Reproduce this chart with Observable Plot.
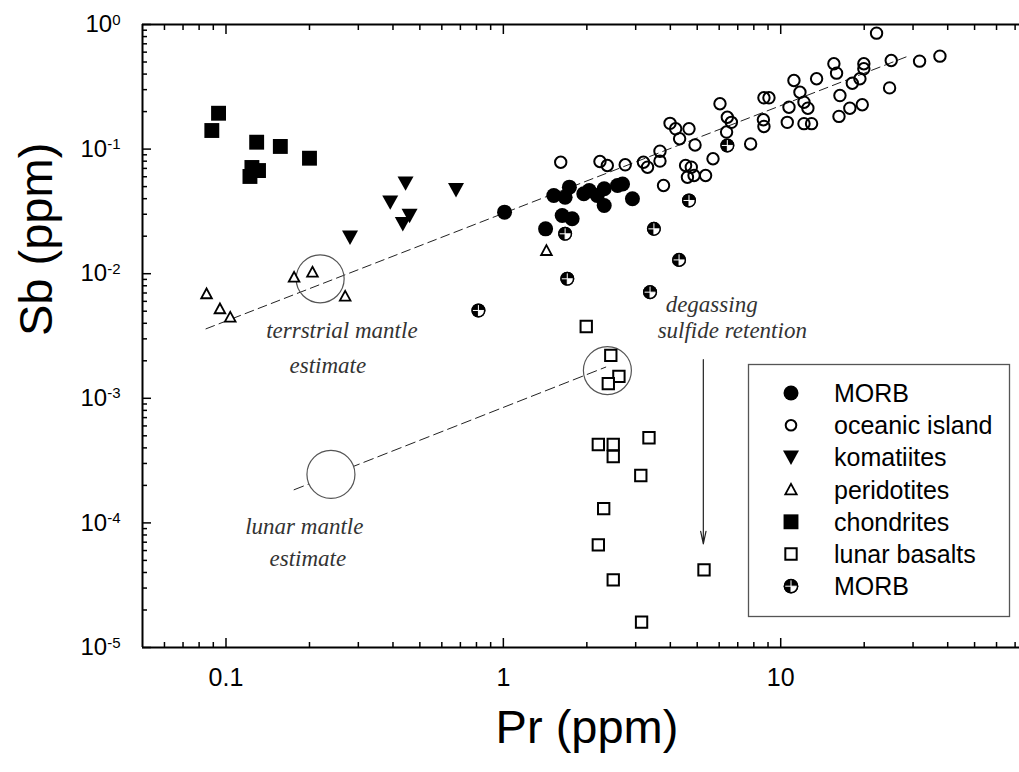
<!DOCTYPE html>
<html><head><meta charset="utf-8">
<script src="https://cdn.jsdelivr.net/npm/d3@7"></script>
<script src="https://cdn.jsdelivr.net/npm/@observablehq/plot@0.6"></script>
<style>
html,body{margin:0;padding:0;background:#fff;}
#chart{width:1019px;height:772px;}
</style></head><body><div id="chart"></div>
<script>
// ---------- data (Pr ppm, Sb ppm) ----------
const morbPr = [1.01, 1.52, 1.73, 1.67, 2.04, 2.31, 2.58, 2.69, 2.18, 2.31, 2.92, 1.63, 1.77, 1.42, 1.95];
const morbSb = [0.0312, 0.0424, 0.0495, 0.0411, 0.0465, 0.048, 0.051, 0.0525, 0.0424, 0.0353, 0.0399, 0.0293, 0.0276, 0.0229, 0.0438];

const oibPr = [1.61, 2.23, 2.37, 2.75, 3.20, 3.31, 3.67, 3.67, 3.78, 3.99, 4.18, 4.32, 4.67, 4.91, 4.54, 4.76, 4.61, 4.87, 5.36, 5.70,
  6.04, 6.42, 6.64, 6.38, 7.79, 8.70, 9.07, 8.66, 8.70, 10.56, 10.71, 11.16, 11.73, 12.13, 12.53, 12.13, 12.92, 13.47,
  15.55, 15.90, 16.35, 16.22, 17.75, 18.12, 19.30, 19.68, 19.94, 19.94, 22.16, 25.03, 24.69, 31.67, 37.5];
const oibSb = [0.0785, 0.0795, 0.0739, 0.0748, 0.0785, 0.0716, 0.0801, 0.0962, 0.051, 0.161, 0.1455, 0.121, 0.1455, 0.108, 0.0739, 0.0716, 0.0595, 0.0614, 0.0614, 0.0836,
  0.231, 0.180, 0.164, 0.137, 0.110, 0.258, 0.258, 0.172, 0.152, 0.164, 0.217, 0.355, 0.286, 0.238, 0.213, 0.160, 0.160, 0.367,
  0.484, 0.407, 0.269, 0.183, 0.213, 0.338, 0.367, 0.227, 0.484, 0.441, 0.852, 0.514, 0.310, 0.508, 0.557];

const komPr = [0.280, 0.391, 0.444, 0.459, 0.434, 0.675];
const komSb = [0.0196, 0.0375, 0.0532, 0.0293, 0.0251, 0.0471];

const perPr = [0.0851, 0.0951, 0.1036, 0.176, 0.205, 0.269, 1.43];
const perSb = [0.0069, 0.00523, 0.00448, 0.00937, 0.0103, 0.0066, 0.01535];

const chonPr = [0.094, 0.0889, 0.129, 0.157, 0.200, 0.122, 0.131, 0.124];
const chonSb = [0.194, 0.141, 0.1136, 0.105, 0.0845, 0.0603, 0.0673, 0.0712];

const lunarPr = [1.99, 2.44, 2.61, 2.39, 2.20, 2.49, 2.49, 3.35, 3.13, 2.30, 2.20, 2.49, 3.15, 5.29];
const lunarSb = [0.00377, 0.00221, 0.0015, 0.00131, 0.000426, 0.000426, 0.000341, 0.000482, 0.00024, 0.00013, 0.0000667, 0.0000349, 0.000016, 0.000042];

const morb2Pr = [1.67, 1.70, 3.49, 4.30, 3.38, 4.67, 6.42, 0.813];
const morb2Sb = [0.0209, 0.0091, 0.0229, 0.0129, 0.00711, 0.0387, 0.107, 0.00507];

// trend lines and estimate circles
const terrLinePr = [0.0847, 29.2];
const terrLineSb = [0.00361, 0.564];
const lunarLinePr = [0.176, 2.34];
const lunarLineSb = [0.0001845, 0.00178];
const estimatePr = [0.2185, 0.239, 2.372];
const estimateSb = [0.0091, 0.000245, 0.00167];
const arrowPr = [5.26];
const arrowSbTop = [0.00204];
const arrowSbBottom = [0.0000679];

// annotations
const annoText = ["terrstrial mantle", "estimate", "lunar mantle", "estimate", "degassing", "sulfide retention"];
const annoPr = [0.2617, 0.2330, 0.1916, 0.1973, 5.636, 6.688];
const annoSb = [0.00302, 0.00161, 0.0000822, 0.0000455, 0.00489, 0.00302];

// ticks & labels
const xMajor = [0.1, 1, 10];
const yMajor = [1, 0.1, 0.01, 0.001, 0.0001, 0.00001];
const legendLabels = ["MORB", "oceanic island", "komatiites", "peridotites", "chondrites", "lunar basalts", "MORB"];
const xTitle = "Pr (ppm)";
const yTitle = "Sb (ppm)";

// ---------- helpers ----------
const zip = (xs, ys) => xs.map((x, i) => ({x, y: ys[i]}));
const minors = (lo, hi) => {
  const out = [];
  for (let e = -6; e <= 2; e++) for (let k = 2; k <= 9; k++) {
    const v = k * Math.pow(10, e);
    if (v > lo && v < hi) out.push(v);
  }
  return out;
};
const xMinor = minors(0.05, 72.6);
const yMinor = minors(1e-5, 1);

const rOf = (size) => Math.sqrt(size / Math.PI);
const symTriUp = {draw(c, s) { const r = rOf(s); c.moveTo(0, -0.95 * r); c.lineTo(0.95 * r, 0.8 * r); c.lineTo(-0.95 * r, 0.8 * r); c.closePath(); }};
const symTriDown = {draw(c, s) { const r = rOf(s); c.moveTo(0, 0.95 * r); c.lineTo(r, -0.85 * r); c.lineTo(-r, -0.85 * r); c.closePath(); }};
const symQuarter = {draw(c, s) { const r = rOf(s); c.moveTo(0, 0); c.lineTo(r, 0); c.arc(0, 0, r, 0, Math.PI / 2); c.closePath(); }};
const symCross = {draw(c, s) { const r = rOf(s); c.moveTo(-r, 0); c.lineTo(r, 0); c.moveTo(0, -r); c.lineTo(0, r); }};

const morb = zip(morbPr, morbSb), oib = zip(oibPr, oibSb), kom = zip(komPr, komSb),
  per = zip(perPr, perSb), chon = zip(chonPr, chonSb), lunar = zip(lunarPr, lunarSb), morb2 = zip(morb2Pr, morb2Sb);
const terrLine = zip(terrLinePr, terrLineSb), lunarLine = zip(lunarLinePr, lunarLineSb);
const estimates = zip(estimatePr, estimateSb);
const arrows = arrowPr.map((x, i) => ({x, y1: arrowSbTop[i], y2: arrowSbBottom[i]}));
const annos = annoText.map((t, i) => ({t, x: annoPr[i], y: annoSb[i]}));

const sans = "'Liberation Sans', Arial, Helvetica, sans-serif";
const serif = "'Liberation Serif', 'Times New Roman', serif";

const plot = Plot.plot({
  width: 1019, height: 772,
  marginLeft: 142, marginRight: 0, marginTop: 24, marginBottom: 125,
  style: {fontFamily: sans, background: "white", overflow: "visible", color: "black"},
  x: {type: "log", domain: [0.05, 72.6], label: null},
  y: {type: "log", domain: [1e-5, 1], label: null},
  marks: [
    // ticks
    Plot.axisX(xMinor, {anchor: "bottom", tickSize: -5, tickFormat: () => "", strokeWidth: 1.5, label: null}),
    Plot.axisX(xMajor, {anchor: "bottom", tickSize: -9, tickPadding: 30, tickFormat: d => String(d), fontSize: 25, strokeWidth: 1.5, label: null}),
    Plot.axisX(xMinor, {anchor: "top", tickSize: -5, tickFormat: () => "", strokeWidth: 1.5, label: null}),
    Plot.axisX(xMajor, {anchor: "top", tickSize: -9, tickFormat: () => "", strokeWidth: 1.5, label: null}),
    Plot.axisY(yMinor, {anchor: "left", tickSize: -5, tickFormat: () => "", strokeWidth: 1.5, label: null}),
    Plot.axisY(yMajor, {anchor: "left", tickSize: -9, tickPadding: 31, tickFormat: d => "10^" + Math.round(Math.log10(d)), fontSize: 24, strokeWidth: 1.5, label: null}),
    // frame (left, top, bottom)
    Plot.ruleY([1e-5, 1], {strokeWidth: 2}),
    Plot.ruleX([0.05], {strokeWidth: 2}),
    // trend lines
    Plot.line(terrLine, {x: "x", y: "y", stroke: "#222", strokeWidth: 1, strokeDasharray: "9,5"}),
    Plot.line(lunarLine, {x: "x", y: "y", stroke: "#222", strokeWidth: 1, strokeDasharray: "10,5"}),
    // estimate circles
    Plot.dot(estimates, {x: "x", y: "y", r: 24, stroke: "#555", strokeWidth: 1.2, fill: (d, i) => i === 1 ? "white" : "none"}),
    // arrow
    Plot.arrow(arrows, {x: "x", y1: "y1", y2: "y2", stroke: "#222", strokeWidth: 1.2, headLength: 16, headAngle: 24}),
    // annotations
    Plot.text(annos, {x: "x", y: "y", text: "t", fontFamily: serif, fontStyle: "italic", fontSize: 23, fill: "#333", lineAnchor: "bottom"}),
    // data
    Plot.dot(oib, {x: "x", y: "y", r: 5.7, stroke: "black", strokeWidth: 2, fill: "none"}),
    Plot.dot(lunar, {x: "x", y: "y", symbol: "square", r: 6.4, stroke: "black", strokeWidth: 2, fill: "white"}),
    Plot.dot(chon, {x: "x", y: "y", symbol: "square", r: 8.4, fill: "black", stroke: "none"}),
    Plot.dot(kom, {x: "x", y: "y", symbol: symTriDown, r: 8, fill: "black", stroke: "none"}),
    Plot.dot(per, {x: "x", y: "y", symbol: symTriUp, r: 5.6, stroke: "black", strokeWidth: 1.8, fill: "white"}),
    Plot.dot(morb, {x: "x", y: "y", r: 7.5, fill: "black", stroke: "none"}),
    Plot.dot(morb2, {x: "x", y: "y", r: 7, fill: "black", stroke: "none"}),
    Plot.dot(morb2, {x: "x", y: "y", symbol: symQuarter, r: 6.6, fill: "white", stroke: "none"}),
    Plot.dot(morb2, {x: "x", y: "y", symbol: symCross, r: 6.6, stroke: "white", strokeWidth: 1, fill: "none"}),
    Plot.dot(morb2, {x: "x", y: "y", r: 6.3, stroke: "black", strokeWidth: 1.5, fill: "none"}),
    // axis titles
    Plot.text([xTitle], {frameAnchor: "bottom", text: d => d, dx: 6, dy: 95, fontSize: 47}),
    Plot.text([yTitle], {frameAnchor: "left", text: d => d, dx: -106, rotate: -90, fontSize: 47})
  ]
});

// superscript exponents on y tick labels
d3.select(plot).selectAll('g[aria-label="y-axis tick label"] text').each(function () {
  const parts = this.textContent.split("^");
  if (parts.length === 2) {
    const s = d3.select(this);
    s.text(parts[0]);
    s.append("tspan").attr("font-size", "15px").attr("dy", "-0.5em").text(parts[1]);
  }
});

// legend
const svg = d3.select(plot);
const lg = svg.append("g").attr("font-family", sans).attr("text-anchor", "start");
lg.append("rect").attr("x", 748.5).attr("y", 364.5).attr("width", 261).attr("height", 252)
  .attr("fill", "white").attr("stroke", "#555").attr("stroke-width", 1.3);
const sym = (type, r) => d3.symbol(type, r * r * Math.PI)();
const legendSymbols = [
  g => g.append("path").attr("d", sym(d3.symbolCircle, 7.5)).attr("fill", "black"),
  g => g.append("path").attr("d", sym(d3.symbolCircle, 5.3)).attr("fill", "white").attr("stroke", "black").attr("stroke-width", 2),
  g => g.append("path").attr("d", sym(symTriDown, 8)).attr("fill", "black"),
  g => g.append("path").attr("d", sym(symTriUp, 6)).attr("fill", "white").attr("stroke", "black").attr("stroke-width", 1.8),
  g => g.append("path").attr("d", sym(d3.symbolSquare, 8.4)).attr("fill", "black"),
  g => g.append("path").attr("d", sym(d3.symbolSquare, 6.4)).attr("fill", "white").attr("stroke", "black").attr("stroke-width", 2),
  g => {
    g.append("path").attr("d", sym(d3.symbolCircle, 7.3)).attr("fill", "black");
    g.append("path").attr("d", sym(symQuarter, 6.8)).attr("fill", "white");
    g.append("path").attr("d", sym(symCross, 6.8)).attr("stroke", "white").attr("stroke-width", 1).attr("fill", "none");
    g.append("path").attr("d", sym(d3.symbolCircle, 6.6)).attr("fill", "none").attr("stroke", "black").attr("stroke-width", 1.5);
  }
];
legendLabels.forEach((label, i) => {
  const cy = 393 + i * 32.2;
  const g = lg.append("g").attr("transform", `translate(791,${cy})`);
  legendSymbols[i](g);
  lg.append("text").attr("x", 834).attr("y", cy).attr("dy", "0.36em").attr("font-size", 25).attr("fill", "black").attr("text-anchor", "start").text(label);
});

document.getElementById("chart").appendChild(plot);
</script>
</body></html>
